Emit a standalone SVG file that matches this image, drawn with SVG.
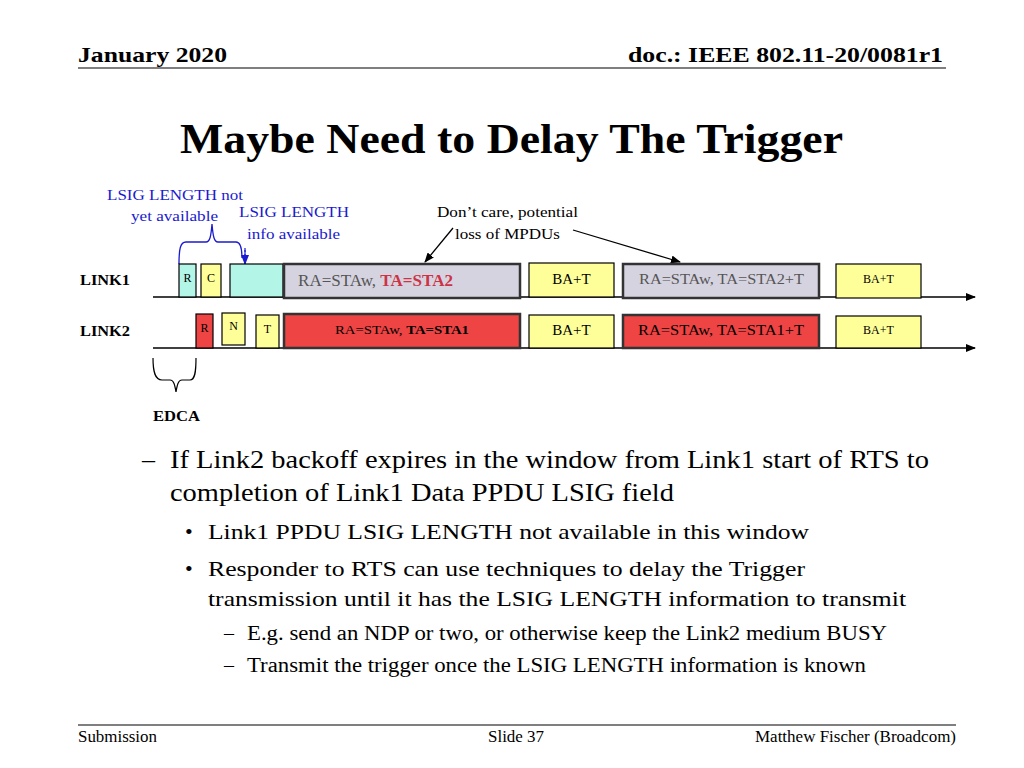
<svg xmlns="http://www.w3.org/2000/svg" width="1024" height="768" viewBox="0 0 1024 768">
<style>
text{font-family:"Liberation Serif","Times New Roman",serif}
.b{stroke:#000;stroke-width:1.2}
.bk{stroke:#333;stroke-width:2.5}
.s{font-size:12px}
.blue{fill:#1a1ad0;font-size:15px}
</style>
<defs>
<marker id="ah" markerWidth="10" markerHeight="8" refX="9" refY="4" orient="auto" markerUnits="userSpaceOnUse"><path d="M0,0L10,4L0,8z" fill="#000"/></marker>
<marker id="bh" markerWidth="10" markerHeight="8" refX="9" refY="4" orient="auto" markerUnits="userSpaceOnUse"><path d="M0,0L10,4L0,8z" fill="#1a1ad0"/></marker>
</defs>
<rect width="1024" height="768" fill="#fff"/>
<text x="78" y="62" font-size="22" font-weight="bold" textLength="149" lengthAdjust="spacingAndGlyphs">January 2020</text>
<text x="628" y="62" font-size="22" font-weight="bold" textLength="315" lengthAdjust="spacingAndGlyphs">doc.: IEEE 802.11-20/0081r1</text>
<line x1="78" y1="68" x2="946" y2="68" stroke="#000" stroke-width="1.2"/>
<text x="180" y="153" font-size="43" font-weight="bold" textLength="663" lengthAdjust="spacingAndGlyphs">Maybe Need to Delay The Trigger</text>

<g id="connectors">
<line x1="153" y1="297" x2="975" y2="297" stroke="#000" stroke-width="1.3" marker-end="url(#ah)"/>
<line x1="153" y1="348" x2="975" y2="348" stroke="#000" stroke-width="1.3" marker-end="url(#ah)"/>
<line x1="453" y1="228" x2="425" y2="262" stroke="#000" stroke-width="1.3" marker-end="url(#ah)"/>
<line x1="573" y1="230" x2="680" y2="262" stroke="#000" stroke-width="1.3" marker-end="url(#ah)"/>
<line x1="245" y1="250" x2="245" y2="297" stroke="#1a1ad0" stroke-width="1.2" stroke-dasharray="2,2"/>
<line x1="245" y1="248" x2="245" y2="264" stroke="#1a1ad0" stroke-width="1.2" marker-end="url(#bh)"/>
<path d="M179,264 C179,250 180,242 186,242 L206,242 C210,242 211,236 212,224 C213,236 214,242 218,242 L236,242 C241,242 242,250 242,258" fill="none" stroke="#1a1ad0" stroke-width="1.3"/>
<path d="M153,358 C153,372 155,380 162,380 L170,380 C174,380 175,386 176,392 C177,386 178,380 182,380 L190,380 C195,380 196,372 196,358" fill="none" stroke="#000" stroke-width="1.2"/>
</g>

<text class="blue" x="107" y="200" textLength="136" lengthAdjust="spacingAndGlyphs">LSIG LENGTH not</text>
<text class="blue" x="131" y="221" textLength="87" lengthAdjust="spacingAndGlyphs">yet available</text>
<text class="blue" x="239" y="217" textLength="110" lengthAdjust="spacingAndGlyphs">LSIG LENGTH</text>
<text class="blue" x="247" y="239" textLength="93" lengthAdjust="spacingAndGlyphs">info available</text>
<text x="437" y="217" font-size="15" textLength="141" lengthAdjust="spacingAndGlyphs">Don’t care, potential</text>
<text x="455" y="239" font-size="15" textLength="105" lengthAdjust="spacingAndGlyphs">loss of MPDUs</text>

<text x="80" y="285" font-size="15" font-weight="bold" textLength="50" lengthAdjust="spacingAndGlyphs">LINK1</text>
<text x="80" y="336" font-size="15" font-weight="bold" textLength="50" lengthAdjust="spacingAndGlyphs">LINK2</text>

<g id="l1r"><rect class="b" x="179" y="264" width="17" height="33" fill="#b3f5e6"/><text class="s" x="187.5" y="282" text-anchor="middle">R</text></g>
<g id="l1c"><rect class="b" x="201" y="264" width="20" height="33" fill="#ffff99"/><text class="s" x="211" y="282" text-anchor="middle">C</text></g>
<g id="l1cy"><rect class="b" x="230" y="264" width="53" height="33" fill="#b3f5e6"/></g>
<g id="l1d"><rect class="bk" x="284" y="264" width="236" height="34" fill="#d6d3e0"/><text x="298" y="286" font-size="16" fill="#555" textLength="155" lengthAdjust="spacingAndGlyphs">RA=STAw, <tspan fill="#cc3344" font-weight="bold">TA=STA2</tspan></text></g>
<g id="l1ba"><rect class="b" x="529" y="263" width="85" height="34" fill="#ffff99"/><text font-size="15" x="571.5" y="284" text-anchor="middle">BA+T</text></g>
<g id="l1d2"><rect class="bk" x="623" y="264" width="196" height="34" fill="#d6d3e0"/><text font-size="15" fill="#555" x="639" y="284" textLength="165" lengthAdjust="spacingAndGlyphs">RA=STAw, TA=STA2+T</text></g>
<g id="l1ba2"><rect class="b" x="836" y="264" width="85" height="34" fill="#ffff99"/><text class="s" x="878.5" y="283" text-anchor="middle">BA+T</text></g>

<g id="l2r"><rect class="b" x="196" y="314" width="17" height="34" fill="#ee4444"/><text class="s" x="204.5" y="332" text-anchor="middle">R</text></g>
<g id="l2n"><rect class="b" x="222" y="313" width="23" height="32" fill="#ffff99"/><text class="s" x="233.5" y="330" text-anchor="middle">N</text></g>
<g id="l2t"><rect class="b" x="256" y="315" width="23" height="33" fill="#ffff99"/><text class="s" x="267.5" y="333" text-anchor="middle">T</text></g>
<g id="l2d"><rect class="bk" x="284" y="314" width="236" height="34" fill="#ee4444"/><text font-size="13" x="335" y="334" textLength="134" lengthAdjust="spacingAndGlyphs">RA=STAw, <tspan font-weight="bold">TA=STA1</tspan></text></g>
<g id="l2ba"><rect class="b" x="529" y="315" width="85" height="33" fill="#ffff99"/><text font-size="15" x="571.5" y="335" text-anchor="middle">BA+T</text></g>
<g id="l2d2"><rect class="bk" x="623" y="315" width="196" height="33" fill="#ee4444"/><text font-size="15" x="638" y="335" textLength="166" lengthAdjust="spacingAndGlyphs">RA=STAw, TA=STA1+T</text></g>
<g id="l2ba2"><rect class="b" x="836" y="316" width="85" height="32" fill="#ffff99"/><text class="s" x="878.5" y="334" text-anchor="middle">BA+T</text></g>

<text x="153" y="421" font-size="15" font-weight="bold" textLength="47" lengthAdjust="spacingAndGlyphs">EDCA</text>

<g font-size="26">
<text x="142" y="468">–</text>
<text x="170" y="468" textLength="759" lengthAdjust="spacingAndGlyphs">If Link2 backoff expires in the window from Link1 start of RTS to</text>
<text x="170" y="501" textLength="504" lengthAdjust="spacingAndGlyphs">completion of Link1 Data PPDU LSIG field</text>
</g>
<g font-size="22">
<text x="185" y="539">•</text><text x="208" y="539" textLength="601" lengthAdjust="spacingAndGlyphs">Link1 PPDU LSIG LENGTH not available in this window</text>
<text x="185" y="576">•</text><text x="208" y="576" textLength="597" lengthAdjust="spacingAndGlyphs">Responder to RTS can use techniques to delay the Trigger</text>
<text x="208" y="606" textLength="698" lengthAdjust="spacingAndGlyphs">transmission until it has the LSIG LENGTH information to transmit</text>
</g>
<g font-size="20">
<text x="224" y="640">–</text><text x="247" y="640" textLength="640" lengthAdjust="spacingAndGlyphs">E.g. send an NDP or two, or otherwise keep the Link2 medium BUSY</text>
<text x="224" y="672">–</text><text x="247" y="672" textLength="619" lengthAdjust="spacingAndGlyphs">Transmit the trigger once the LSIG LENGTH information is known</text>
</g>
<line x1="78" y1="725" x2="956" y2="725" stroke="#000" stroke-width="1.2"/>
<text x="78" y="742" font-size="16" textLength="79" lengthAdjust="spacingAndGlyphs">Submission</text>
<text x="488" y="742" font-size="16" textLength="56" lengthAdjust="spacingAndGlyphs">Slide 37</text>
<text x="755" y="742" font-size="16" textLength="201" lengthAdjust="spacingAndGlyphs">Matthew Fischer (Broadcom)</text>
</svg>
